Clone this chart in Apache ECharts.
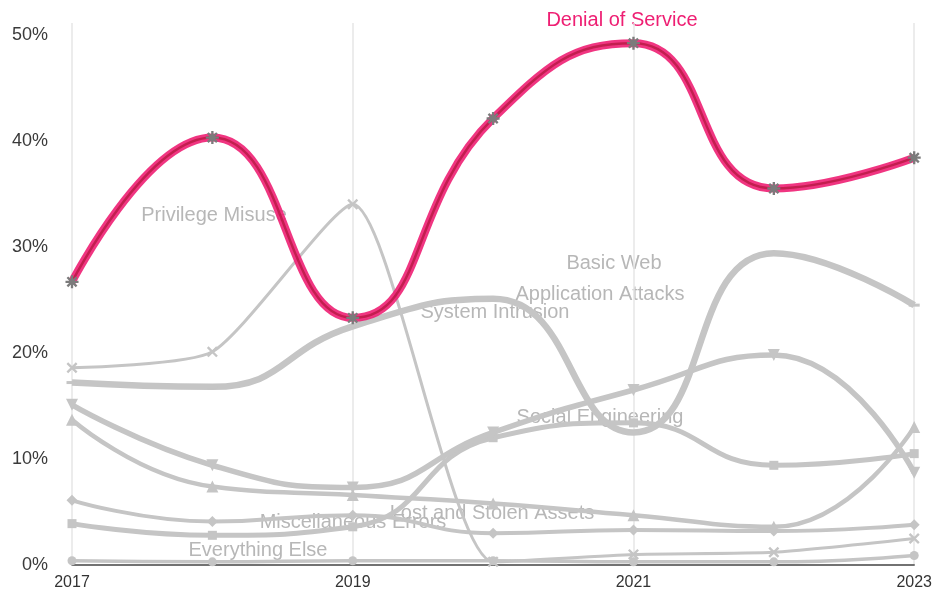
<!DOCTYPE html>
<html>
<head>
<meta charset="utf-8">
<title>Patterns over time in incidents</title>
<script src="https://cdn.jsdelivr.net/npm/echarts@6/dist/echarts.min.js"></script>
<style>
  html, body { margin: 0; padding: 0; background: #fff; }
  #chart { width: 935px; height: 594px; }
</style>
</head>
<body>
<div id="chart"></div>
<script>
// x axis categories
const years = ['2017', '2018', '2019', '2020', '2021', '2022', '2023']
const yTicks = [0, 10, 20, 30, 40, 50]

// share of incidents per pattern, in percent
const denialOfService = [26.7, 40.3, 23.3, 42.1, 49.2, 35.5, 38.4]
const privilegeMisuse = [18.6, 20.1, 34.0, 0.3, 1.0, 1.2, 2.5]
const systemIntrusion = [17.2, 16.8, 22.5, 25.1, 12.5, 29.4, 24.5]
const socialEngineering = [15.1, 9.4, 7.3, 12.5, 16.5, 19.8, 8.7]
const lostAndStolen = [13.7, 7.4, 6.6, 5.8, 4.7, 3.6, 13.0]
const miscErrors = [6.1, 4.1, 4.7, 3.0, 3.3, 3.2, 3.8]
const basicWeb = [3.9, 2.8, 3.6, 12.0, 13.4, 9.4, 10.5]
const everythingElse = [0.4, 0.3, 0.4, 0.4, 0.3, 0.3, 0.9]

const GREY = '#c5c5c5'
const LABEL_GREY = '#b7b7b7'
const PINK = '#ee1f73'
const FONT = '"Liberation Sans", Arial, sans-serif'

// bars rotated round the centre -> asterisk / cross symbols
function barsPath(angles) {
  let d = ''
  angles.forEach(a => {
    const r = a * Math.PI / 180
    const c = Math.cos(r), s = Math.sin(r)
    const pts = [[-10, -1.8], [10, -1.8], [10, 1.8], [-10, 1.8]]
      .map(p => [p[0] * c - p[1] * s, p[0] * s + p[1] * c])
    d += 'M' + pts.map(p => p[0].toFixed(2) + ',' + p[1].toFixed(2)).join('L') + 'Z'
  })
  return 'path://' + d
}
const asterisk = barsPath([0, 45, 90, 135])
const cross = barsPath([45, 135])
const triDown = 'path://M0,0L10,0L5,9Z'
const dash = 'path://M0,0L10,0L10,3L0,3Z'

function greyLine(name, data, width, symbol, size, smooth) {
  return {
    name: name,
    type: 'line',
    data: data,
    smooth: smooth || 0.5,
    symbol: symbol,
    symbolSize: size || 9,
    showSymbol: true,
    lineStyle: { color: GREY, width: width },
    itemStyle: { color: GREY },
    z: 2
  }
}

const chart = echarts.init(document.getElementById('chart'))

function tag(text, x, y, color) {
  return {
    type: 'text', x: x, y: y, z: 0,
    style: {
      text: text, fill: color || LABEL_GREY, font: '20px ' + FONT,
      textAlign: 'center', textVerticalAlign: 'middle'
    }
  }
}

chart.setOption({
  animation: false,
  grid: { left: 72, right: 17, top: 23, bottom: 29 },
  xAxis: {
    type: 'category',
    data: years,
    boundaryGap: false,
    axisTick: { show: false },
    axisLine: { show: true, lineStyle: { color: '#444', width: 1.5 } },
    axisLabel: {
      interval: 1,
      color: '#333',
      fontSize: 16,
      fontFamily: FONT,
      margin: 10
    },
    splitLine: { show: true, lineStyle: { color: '#e6e6e6', width: 1.5 } }
  },
  yAxis: {
    type: 'value',
    min: 0,
    max: 51.1,
    interval: 10,
    axisLine: { show: false },
    axisTick: { show: false },
    splitLine: { show: false },
    axisLabel: {
      color: '#3a3a3a',
      fontSize: 18,
      fontFamily: FONT,
      margin: 24,
      formatter: v => (yTicks.indexOf(v) >= 0 ? v + '%' : '')
    }
  },
  graphic: [
    tag('Denial of Service', 622, 20, PINK),
    tag('Privilege Misuse', 214, 215),
    tag('Basic Web', 614, 263),
    tag('Application Attacks', 600, 294),
    tag('System Intrusion', 495, 312),
    tag('Social Engineering', 600, 417),
    tag('Lost and Stolen Assets', 492, 513),
    tag('Miscellaneous Errors', 353, 522),
    tag('Everything Else', 258, 550)
  ],
  series: [
    greyLine('Everything Else', everythingElse, 3.5, 'circle', 9),
    greyLine('Miscellaneous Errors', miscErrors, 4, 'diamond', 11),
    greyLine('Lost and Stolen Assets', lostAndStolen, 4.5, 'triangle', 12),
    greyLine('Basic Web (sq)', basicWeb, 5, 'rect', 9),
    greyLine('Social Engineering', socialEngineering, 5.5, triDown, 12),
    greyLine('Privilege Misuse', privilegeMisuse, 3, cross, 11, 0.2),
    greyLine('System Intrusion', systemIntrusion, 6.5, dash, [11, 3]),
    {
      name: 'Denial of Service',
      type: 'line',
      data: denialOfService,
      smooth: 0.5,
      showSymbol: false,
      lineStyle: { color: PINK, width: 8, opacity: 0.9 },
      z: 3
    },
    {
      name: 'Denial of Service core',
      type: 'line',
      data: denialOfService,
      smooth: 0.5,
      symbol: asterisk,
      symbolSize: 13,
      itemStyle: { color: '#7b7b7b' },
      lineStyle: { color: '#b3173f', width: 2.5, opacity: 0.75 },
      z: 4
    }
  ]
})
</script>
</body>
</html>
